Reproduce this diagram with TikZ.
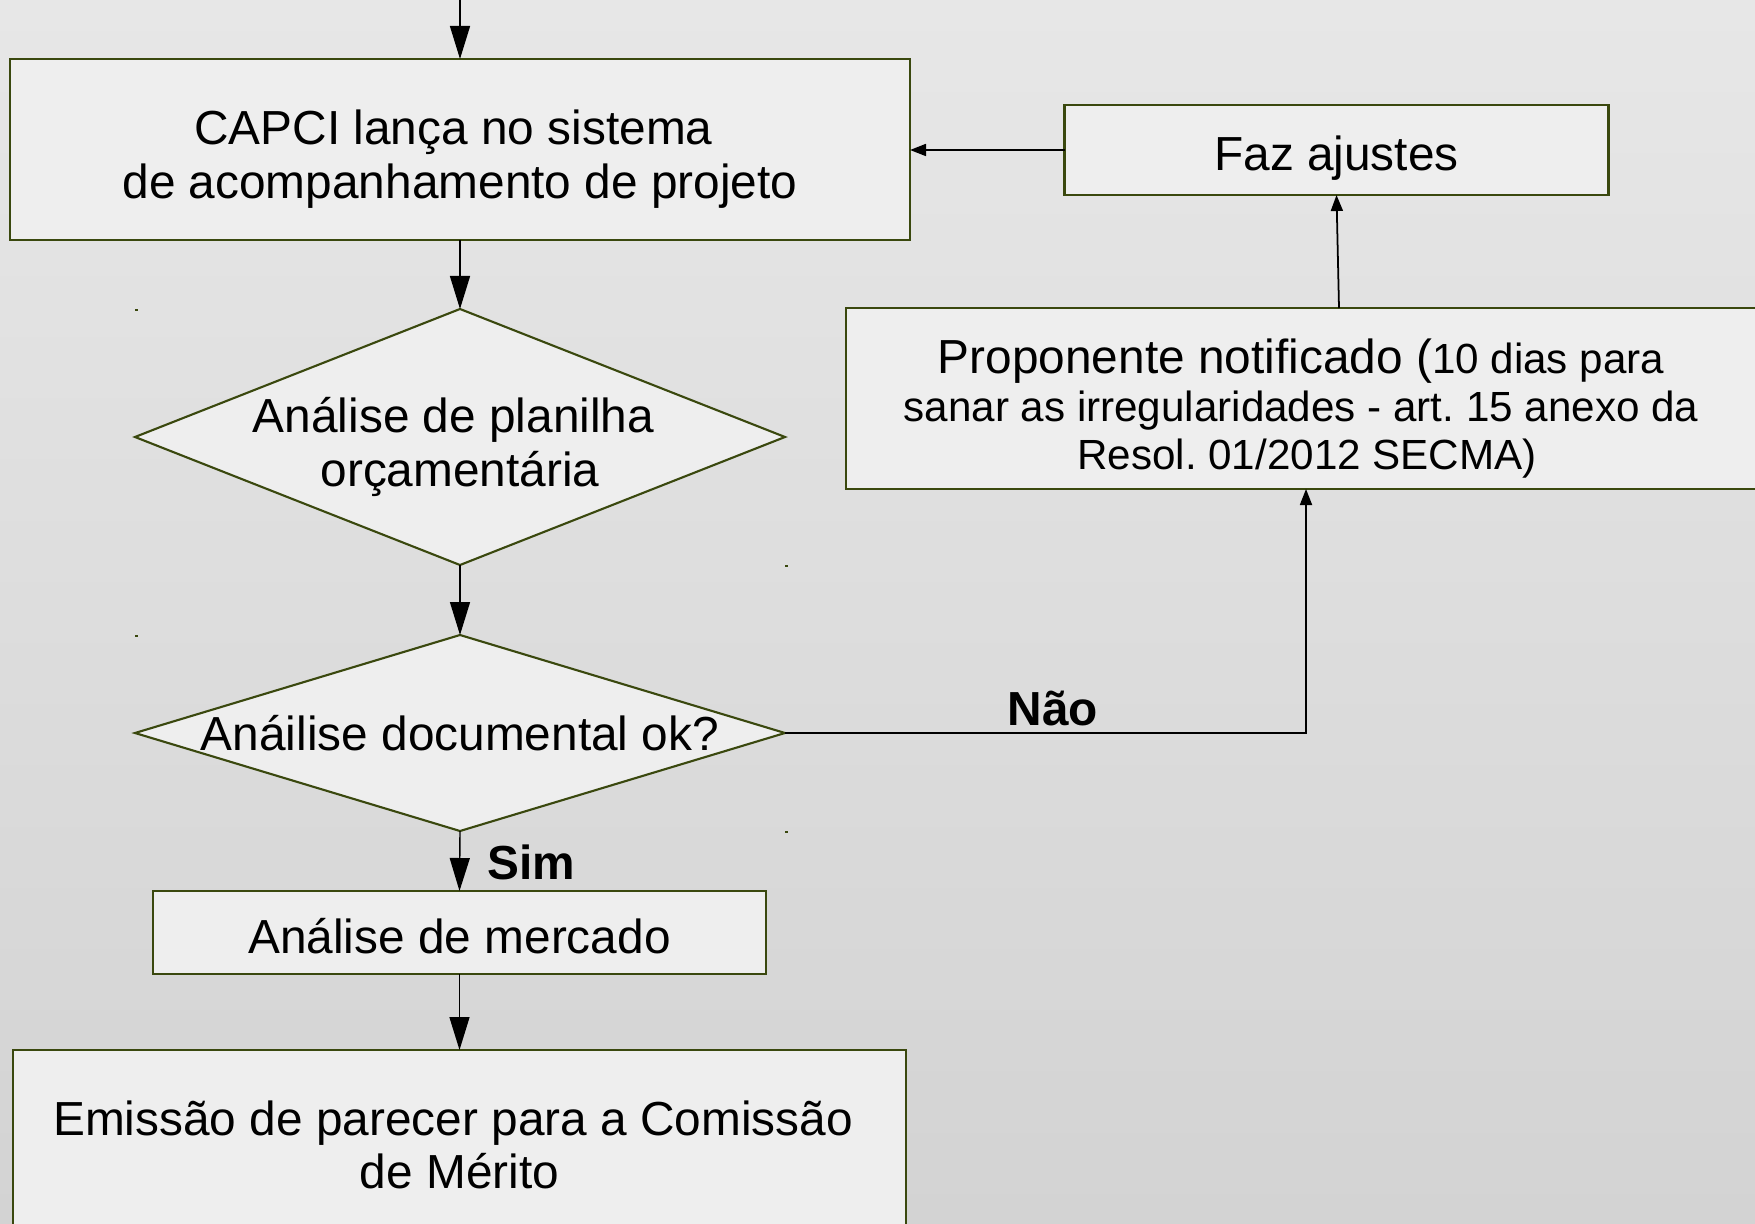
\documentclass[tikz,border=0pt]{standalone}
\usepackage{fontspec}
\setmainfont{Liberation Sans}
\usepackage{tikz}
\usetikzlibrary{arrows.meta,positioning,shapes.geometric}
\definecolor{borda}{RGB}{58,72,14}
\definecolor{caixa}{RGB}{238,238,238}
\newcommand{\fs}{\fontsize{13.6}{15.3}\selectfont}
\frenchspacing

\begin{document}
\begin{tikzpicture}[
  bx/.style={draw=borda,line width=0.6pt,fill=caixa,inner sep=0pt,outer sep=0pt},
  dm/.style={diamond,draw=borda,line width=0.6pt,fill=caixa,inner sep=0pt,outer sep=0pt},
  tx/.style={align=center,font=\fs,inner sep=0pt},
  lbl/.style={font=\fs\bfseries,inner sep=0pt},
  gr/.style={-{Triangle[length=3.3mm,width=2mm]},line width=0.4pt},
  pq/.style={-{Triangle[length=1.6mm,width=1.2mm]},line width=0.5pt}]
  \useasboundingbox (0,0) rectangle (17.55,-12.24);
  \shade[top color={rgb,255:red,231;green,231;blue,231},bottom color={rgb,255:red,211;green,211;blue,211}]
    (0,0) rectangle (17.55,-12.24);

  \node[bx,minimum width=9cm,minimum height=1.81cm] (capci) at (4.60,-1.495) {};
  \node[tx] (capcitxt) at ([yshift=-1mm]capci) {CAPCI lança no sistema\kern1.3mm\\de acompanhamento de projeto};
  \node[bx,minimum width=5.44cm,minimum height=0.90cm] (faz) at (13.365,-1.50) {};
  \node[tx] (faztxt) at ([yshift=-0.8mm]faz) {Faz ajustes};
  \node[bx,minimum width=9.10cm,minimum height=1.81cm] (prop) at (13.01,-3.985) {};
  \node[tx,font=\fontsize{12}{13.7}\selectfont] (proptxt) at ([yshift=-1mm]prop)
    {{\fs Proponente notificado (}10 dias para\\sanar as irregularidades - art. 15 anexo da\\\kern1.2mm Resol. 01/2012 SECMA)};

  \node[dm,minimum width=6.5cm,minimum height=2.56cm] (d1) at (4.60,-4.37) {};
  \node[tx] (d1txt) at ([yshift=-1mm]d1) {Análise de planilha\kern1.3mm\\orçamentária};
  \node[dm,minimum width=6.5cm,minimum height=1.96cm] (d2) at (4.60,-7.33) {};
  \node[tx] (d2txt) at (d2) {Anáilise documental ok?};

  \node[bx,minimum width=6.13cm,minimum height=0.83cm] (merc) at (4.595,-9.325) {};
  \node[tx] (merctxt) at ([yshift=-0.35mm]merc) {Análise de mercado};
  \node[bx,minimum width=8.93cm,minimum height=1.90cm] (emis) at (4.595,-11.45) {};
  \node[tx] (emistxt) at (emis) {Emissão de parecer para a Comissão\kern1.3mm\\de Mérito};

  % pontinhos nos cantos dos losangos
  \foreach \d in {d1,d2} {
    \fill[borda] (\d.west |- \d.north) rectangle +(0.03,-0.02);
    \fill[borda] (\d.east |- \d.south) rectangle +(0.03,-0.02);
  }

  \coordinate (ini) at (4.60,0);
  \draw[gr] (ini) -- (capci.north);
  \draw[gr] (capci.south) -- (d1.north);
  \draw[gr] (d1.south) -- (d2.north);
  \draw[gr] (d2.south) -- node[lbl,right=2.7mm,pos=0.53] (sim) {Sim} (merc.north);
  \draw[gr] (merc.south) -- (emis.north);
  \draw[pq] (d2.east) -| node[lbl,above=0.6mm,pos=0.257] (nao) {Não} ([xshift=0.5mm]prop.south);
  \draw[pq] ([xshift=3.8mm]prop.north) -- (faz.south);
  \draw[pq] (faz.west) -- (faz.west -| capci.east);
\end{tikzpicture}
\end{document}
